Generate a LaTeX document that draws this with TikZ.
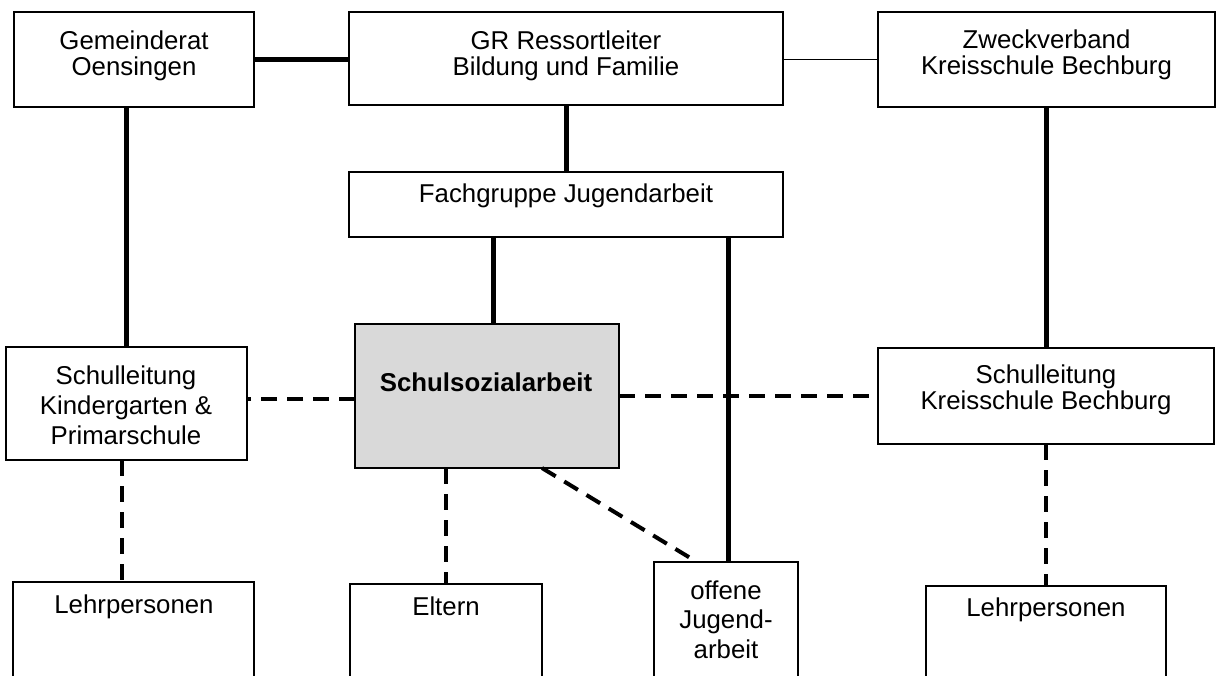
\documentclass[tikz,border=0pt]{standalone}
\usepackage{fontspec}
\setmainfont{Liberation Sans}
\begin{document}
\begin{tikzpicture}[x=1pt,y=-1pt,
  box/.style={draw, line width=1.5pt, inner sep=0pt, outer sep=0pt},
  lbl/.style={inner sep=0pt, anchor=base, font=\fontsize{25.8}{26}\selectfont},
  lblw/.style={inner sep=0pt, anchor=base, font=\fontsize{25.8}{30}\selectfont},
  solidc/.style={line width=5pt},
  thinc/.style={line width=1.5pt},
  dashc/.style={line width=4pt, dash pattern=on 16pt off 10pt}]
\useasboundingbox (0,0) rectangle (1218,675);
\clip (0,0) rectangle (1218,675);
% boxes
\node[box, minimum width=240pt, minimum height=95pt] (gem) at (134,59.5) {};
\node[box, minimum width=434pt, minimum height=93pt] (gr) at (566,58.5) {};
\node[box, minimum width=337pt, minimum height=95pt] (zweck) at (1046.5,59.5) {};
\node[box, minimum width=434pt, minimum height=65pt] (fach) at (566,204.5) {};
\node[box, fill=black!15, minimum width=264pt, minimum height=144pt] (ssa) at (487,396) {};
\node[box, minimum width=241pt, minimum height=113pt] (slkg) at (126.5,403.5) {};
\node[box, minimum width=336pt, minimum height=96pt] (slks) at (1046,396) {};
\node[box, minimum width=241pt, minimum height=118pt] (lehrL) at (133.5,641) {};
\node[box, minimum width=192pt, minimum height=116pt] (eltern) at (446,642) {};
\node[box, minimum width=144pt, minimum height=138pt] (offen) at (726,631) {};
\node[box, minimum width=240pt, minimum height=114pt] (lehrR) at (1046,643) {};
% labels
\node[lbl] (gemT) at (134,49) {\begin{tabular}[t]{@{}c@{}}Gemeinderat\\Oensingen\end{tabular}};
\node[lbl] (grT) at (566,49.5) {\begin{tabular}[t]{@{}c@{}}GR Ressortleiter\\Bildung und Familie\end{tabular}};
\node[lbl] (zweckT) at (1046.5,48) {\begin{tabular}[t]{@{}c@{}}Zweckverband\\Kreisschule Bechburg\end{tabular}};
\node[lbl] (fachT) at (566,202) {Fachgruppe Jugendarbeit};
\node[lbl, font=\fontsize{25.8}{26}\selectfont\bfseries] (ssaT) at (486,391) {Schulsozialarbeit};
\node[lblw] (slkgT) at (126,384.5) {\begin{tabular}[t]{@{}c@{}}Schulleitung\\Kindergarten \&\\Primarschule\end{tabular}};
\node[lbl] (slksT) at (1046,383) {\begin{tabular}[t]{@{}c@{}}Schulleitung\\Kreisschule Bechburg\end{tabular}};
\node[lbl] (lehrLT) at (134,613) {Lehrpersonen};
\node[lbl] (elternT) at (446,615) {Eltern};
\node[lblw, font=\fontsize{25.8}{29.5}\selectfont] (offenT) at (726,599) {\begin{tabular}[t]{@{}c@{}}offene\\Jugend-\\arbeit\end{tabular}};
\node[lbl] (lehrRT) at (1046,616) {Lehrpersonen};
% solid connectors
\draw[solidc] (gem.east) -- (gem.east -| gr.west);
\draw[thinc] (zweck.west -| gr.east) -- (zweck.west);
\draw[solidc] (gr.south) -- (fach.north);
\draw[solidc] (slkg.north |- gem.south) -- (slkg.north);
\draw[solidc] (slks.north |- zweck.south) -- (slks.north);
\draw[solidc] ([xshift=6pt]ssa.north |- fach.south) -- ([xshift=6pt]ssa.north);
\draw[solidc] ([xshift=2pt]offen.north |- fach.south) -- ([xshift=2pt]offen.north);
% dashed connectors
\draw[dashc] ([yshift=-3pt]ssa.west) -- ([yshift=-3pt]ssa.west -| slkg.east);
\draw[dashc] (ssa.east) -- (slks.west);
\draw[dashc] ([xshift=-5pt]slkg.south) -- ([xshift=-5pt]slkg.south |- lehrL.north);
\draw[dashc] (slks.south) -- (lehrR.north);
\draw[dashc] (eltern.north |- ssa.south) -- (eltern.north);
\draw[dashc] ([xshift=55pt]ssa.south) -- ([xshift=38pt,yshift=3pt]offen.north west);
\end{tikzpicture}
\end{document}
